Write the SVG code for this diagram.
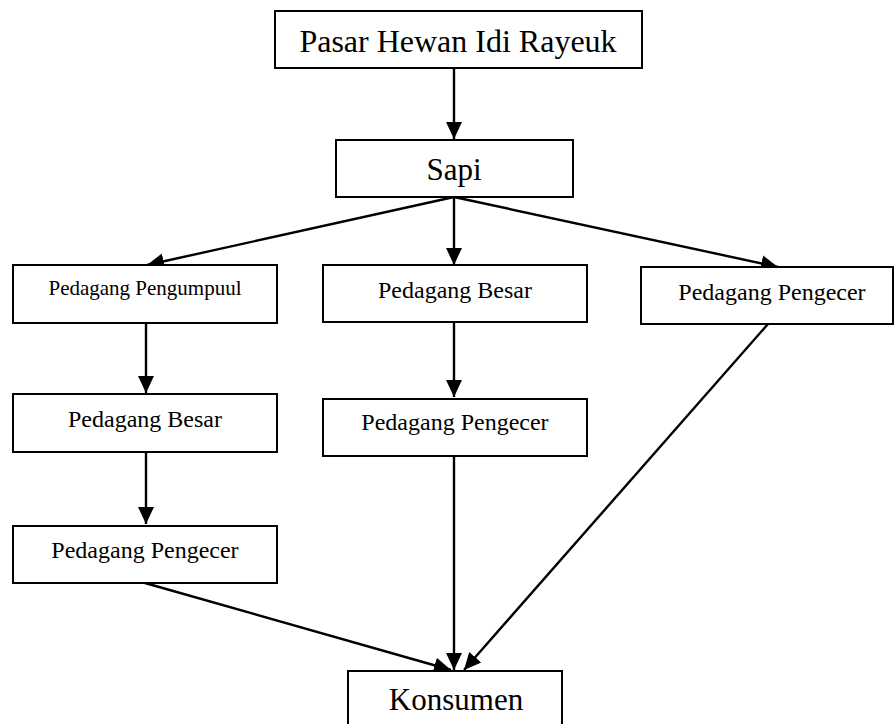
<svg xmlns="http://www.w3.org/2000/svg" width="895" height="724" viewBox="0 0 895 724">
<style>
rect{fill:#fff;stroke:#000;stroke-width:2}
text{font-family:"Liberation Serif","Times New Roman",serif;fill:#000;text-anchor:middle}
.c line{stroke:#000;stroke-width:2.4}
</style>
<defs>
<marker id="ah" markerUnits="userSpaceOnUse" markerWidth="18" markerHeight="18" viewBox="0 0 18 18" refX="17" refY="9" orient="auto">
<path d="M0,1 L17,9 L0,17 z" fill="#000"/>
</marker>
</defs>
<rect x="0" y="0" width="895" height="724" style="stroke:none"/>
<g class="c" id="connectors">
<line x1="454" y1="68" x2="454" y2="139" marker-end="url(#ah)"/>
<line x1="454" y1="197" x2="147" y2="265" marker-end="url(#ah)"/>
<line x1="454" y1="197" x2="454" y2="265" marker-end="url(#ah)"/>
<line x1="454" y1="197" x2="778" y2="267" marker-end="url(#ah)"/>
<line x1="146" y1="323" x2="146" y2="393" marker-end="url(#ah)"/>
<line x1="146" y1="452" x2="146" y2="524" marker-end="url(#ah)"/>
<line x1="454" y1="322" x2="454" y2="397" marker-end="url(#ah)"/>
<line x1="145" y1="583" x2="451" y2="670" marker-end="url(#ah)"/>
<line x1="454" y1="456" x2="454" y2="670" marker-end="url(#ah)"/>
<line x1="768" y1="324" x2="464" y2="670" marker-end="url(#ah)"/>
</g>
<g id="n-pasar"><rect x="275" y="11" width="367" height="57"/><text x="458" y="52" font-size="32">Pasar Hewan Idi Rayeuk</text></g>
<g id="n-sapi"><rect x="336" y="140" width="237" height="57"/><text x="454" y="180" font-size="31">Sapi</text></g>
<g id="n-pengumpul"><rect x="13" y="265" width="264" height="58"/><text x="145" y="295" font-size="21">Pedagang Pengumpuul</text></g>
<g id="n-besar-mid"><rect x="323" y="265" width="264" height="57"/><text x="455" y="298" font-size="24">Pedagang Besar</text></g>
<g id="n-pengecer-right"><rect x="641" y="267" width="252" height="57"/><text x="772" y="300" font-size="24">Pedagang Pengecer</text></g>
<g id="n-besar-left"><rect x="13" y="394" width="264" height="58"/><text x="145" y="427" font-size="24">Pedagang Besar</text></g>
<g id="n-pengecer-mid"><rect x="323" y="399" width="264" height="57"/><text x="455" y="430" font-size="24">Pedagang Pengecer</text></g>
<g id="n-pengecer-left"><rect x="13" y="526" width="264" height="57"/><text x="145" y="558" font-size="24">Pedagang Pengecer</text></g>
<g id="n-konsumen"><rect x="348" y="671" width="214" height="57"/><text x="456" y="710" font-size="31">Konsumen</text></g>
</svg>
